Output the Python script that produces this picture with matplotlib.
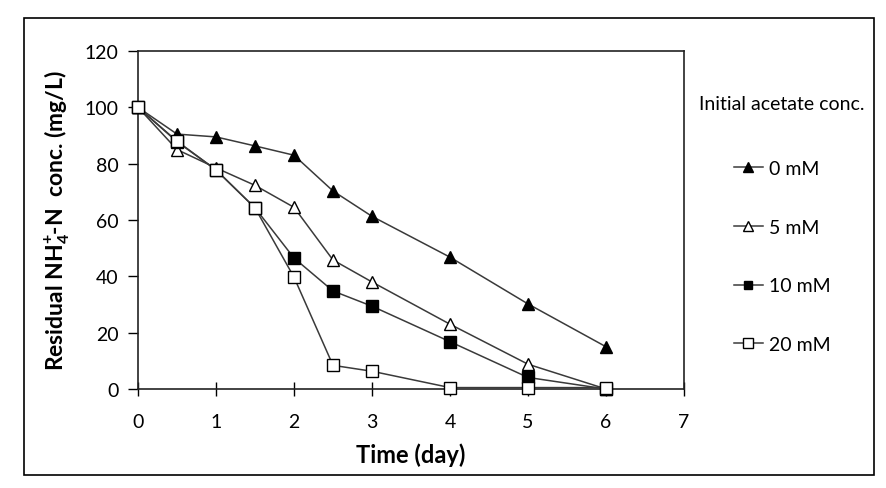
import matplotlib as mpl
import matplotlib.pyplot as plt
from matplotlib.patches import Rectangle

mpl.rcParams['font.family'] = ['Lato', 'DejaVu Sans']
mpl.rcParams['mathtext.fontset'] = 'custom'
mpl.rcParams['mathtext.rm'] = 'Lato'
mpl.rcParams['mathtext.bf'] = 'Lato:bold'

# time (day)
days = [0, 0.5, 1, 1.5, 2, 2.5, 3, 4, 5, 6]
# residual NH4+-N (mg/L) for each initial acetate conc.
c0 = [100, 90.5, 89.5, 86.3, 83, 70.3, 61.3, 46.8, 30.2, 15]
c5 = [100, 85, 78.5, 72.3, 64.5, 45.8, 38, 23, 8.8, 0]
c10 = [100, 87.8, 77.8, 64.3, 46.5, 34.8, 29.4, 16.8, 4.1, 0]
c20 = [100, 88, 77.8, 64.3, 39.7, 8.4, 6.3, 0.5, 0.5, 0.5]
labels = ['0 mM', '5 mM', '10 mM', '20 mM']

fig = plt.figure(figsize=(8.86, 4.89), dpi=100)
ax = fig.add_axes([138/886, 1-390/489, (684-138)/886, (390-52)/489])

styles = [('^', 'black', 8.5), ('^', 'white', 8.5), ('s', 'black', 8), ('s', 'white', 9)]
for ys, lab, (m, fc, ms) in zip([c0, c5, c10, c20], labels, styles):
    ax.plot(days, ys, color='#3a3a3a', lw=1.1, marker=m, markersize=ms,
            markerfacecolor=fc, markeredgecolor='black', markeredgewidth=1,
            label=lab, clip_on=False, zorder=3)

ax.set_xlim(0, 7)
ax.set_ylim(0, 120)
ax.set_xticks(range(0, 8))
ax.set_yticks(range(0, 121, 20))
ax.tick_params(direction='out', length=7, width=1, labelsize=14, colors='black', pad=7)
ax.tick_params(axis='x', direction='inout', length=10, pad=12)
for s in ax.spines.values():
    s.set_linewidth(1.2)
    s.set_color('#222222')

ax.set_xlabel('Time (day)', fontsize=17, fontweight='bold', labelpad=9)
ax.set_ylabel(r'Residual NH$_\mathbf{4}^\mathbf{+}$-N  conc. (mg/L)',
              fontsize=16.5, fontweight='bold', labelpad=9)

leg = fig.legend(loc='upper center', bbox_to_anchor=(782/886, 1-79/489),
                 title='Initial acetate conc.', title_fontsize=14, fontsize=14,
                 frameon=False, handlelength=1.5, handletextpad=0.3,
                 labelspacing=2.15, markerscale=0.8)
leg._legend_box.sep = 34

fig.patches.append(Rectangle((24/886, 1-476/489), 850/886, 457/489,
                             transform=fig.transFigure, fill=False,
                             edgecolor='black', lw=1.2))

fig.savefig('out.png', dpi=100)
